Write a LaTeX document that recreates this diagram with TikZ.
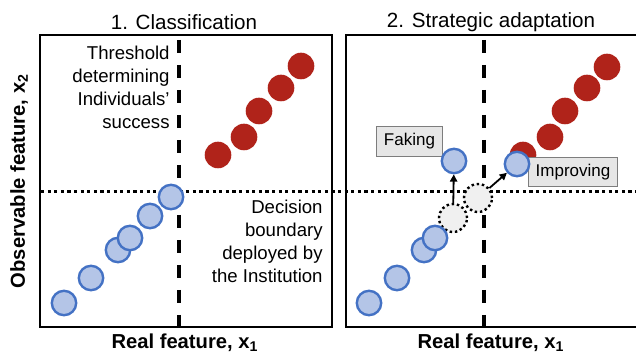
\documentclass[tikz,border=0pt]{standalone}
\usepackage{fontspec}
\setmainfont{Liberation Sans}
\usetikzlibrary{arrows.meta}

\definecolor{dotred}{RGB}{176,35,26}
\definecolor{dotblue}{RGB}{180,197,231}
\definecolor{rimblue}{RGB}{68,114,196}
\definecolor{ghost}{RGB}{240,240,240}
\definecolor{tagfill}{RGB}{230,230,230}
\definecolor{tagrim}{RGB}{125,125,125}

\tikzset{
  frame/.style={line width=1.3pt},
  threshold/.style={line width=1.6pt,dash pattern=on 6.5pt off 6pt,dash phase=-2.5pt},
  boundary/.style={line width=1.5pt,dash pattern=on 1.6pt off 1.7pt},
  red dot/.style={circle,fill=dotred,inner sep=0pt,minimum size=13.3pt},
  blue dot/.style={circle,fill=dotblue,draw=rimblue,line width=1.2pt,inner sep=0pt,minimum size=12.2pt},
  old dot/.style={circle,fill=ghost,draw=black,line width=1.2pt,dash pattern=on 1.2pt off 1.4pt,inner sep=0pt,minimum size=14pt},
  tag/.style={fill=tagfill,draw=tagrim,line width=0.5pt,font=\fontsize{8.5}{10}\selectfont,minimum height=13.3pt,inner xsep=3.5pt},
  move/.style={line width=0.9pt,-{Triangle[length=3.6pt,width=3.6pt]}},
  title/.style={font=\fontsize{10.3}{12}\selectfont},
  axis/.style={font=\bfseries\fontsize{10.1}{12}\selectfont},
  note/.style={font=\fontsize{9.3}{11.5}\selectfont,align=right,inner sep=0pt}
}

\begin{document}
\begin{tikzpicture}[x=0.5pt,y=-0.5pt]
\useasboundingbox (0,0) rectangle (636,356);

% panels
\draw[frame] (40,35) rectangle (332,327);
\draw[frame] (640,35) -- (346,35) -- (346,327) -- (640,327);
\node[title] (t1) at (184,22) {1. Classification};
\node[title] (t2) at (491,22) {2. Strategic adaptation};
\node[axis] (xl1) at (185,343) {Real feature, x\textsubscript{1}};
\node[axis] (xl2) at (491,343) {Real feature, x\textsubscript{1}};
\node[axis,rotate=90] (yl) at (19,181) {Observable feature, x\textsubscript{2}};

% threshold and decision boundary
\draw[threshold] (179,35) -- (179,327);
\draw[threshold] (484,35) -- (484,327);
\draw[boundary] (41,192) -- (636,192);

\node[note,anchor=east] (thr) at (170,87)
  {Threshold\\determining\\Individuals'\\success};
\node[note,anchor=east] (dec) at (323,241)
  {Decision\\boundary\\deployed by\\the Institution};

% 1. classification
\node[red dot] (r1) at (218,155) {};
\node[red dot] (r2) at (244,137) {};
\node[red dot] (r3) at (259,111) {};
\node[red dot] (r4) at (281,88) {};
\node[red dot] (r5) at (301,66) {};
\node[blue dot] (b1) at (64,303) {};
\node[blue dot] (b2) at (91,278) {};
\node[blue dot] (b3) at (118,250) {};
\node[blue dot] (b4) at (130,238) {};
\node[blue dot] (b5) at (150,216) {};
\node[blue dot] (b6) at (171,197) {};

% 2. strategic adaptation
\node[red dot] (s1) at (523,155) {};
\node[red dot] (s2) at (550,137) {};
\node[red dot] (s3) at (565,111) {};
\node[red dot] (s4) at (587,88) {};
\node[red dot] (s5) at (607,67) {};
\node[old dot] (o1) at (453,218) {};
\node[old dot] (o2) at (478,198) {};
\node[blue dot] (c1) at (369,303) {};
\node[blue dot] (c2) at (397,278) {};
\node[blue dot] (c3) at (424,250) {};
\node[blue dot] (c4) at (435,238) {};
\node[tag] (fake) at (409.5,141.5) {Faking};
\node[tag] (impr) at (573,172) {Improving};
\node[blue dot] (f1) at (454,161) {};
\node[blue dot] (i1) at (517,164) {};
\draw[move] (o1) -- (f1);
\draw[move] (o2) -- (i1);
\end{tikzpicture}
\end{document}
